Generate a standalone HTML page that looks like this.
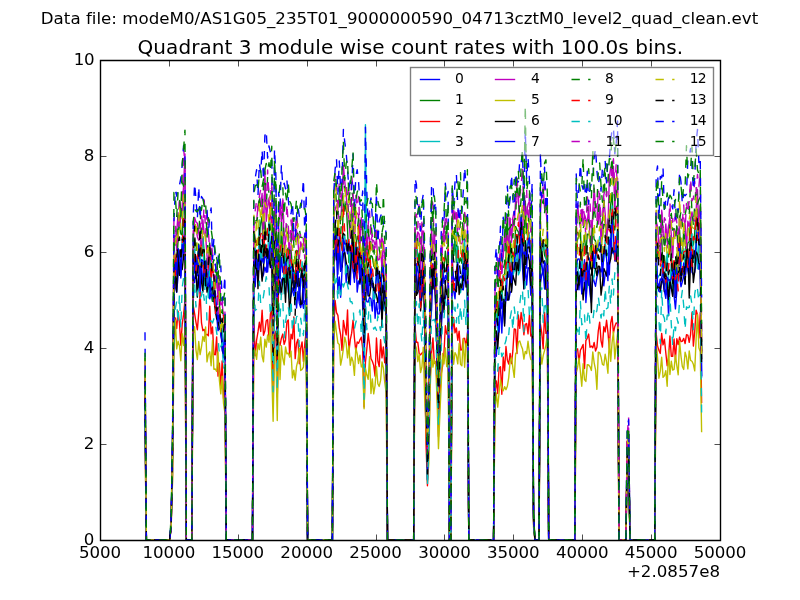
<!DOCTYPE html>
<html><head><meta charset="utf-8"><title>Quadrant 3 module wise count rates</title><style>html,body{margin:0;padding:0;background:#fff;width:800px;height:600px;overflow:hidden}svg{display:block}</style></head><body>
<svg width="800" height="600" viewBox="0 0 800 600">
<defs><clipPath id="ax"><rect x="100" y="60" width="620" height="480"/></clipPath></defs>
<rect x="0" y="0" width="800" height="600" fill="#ffffff"/>
<g clip-path="url(#ax)" fill="none" stroke-width="1.3889" stroke-linejoin="round">
<path d="M145 400.36 146.38 540 169.8 540 171.18 522.86 172.56 461.13 173.93 279.02 175.31 286.9 176.69 292.33 178.07 275.75 179.44 262.52 180.82 277.99 182.2 250.25 183.58 246.99 184.96 265.06 186.33 540 191.84 540 193.22 275.19 194.6 282.68 195.98 268.83 197.36 291.54 198.73 275.22 200.11 293.13 201.49 264.38 202.87 283.43 204.24 269.99 205.62 269.48 207 279.27 208.38 269.1 209.76 298.71 211.13 293.57 212.51 301.1 213.89 301.61 215.27 301.11 216.64 315.68 218.02 330.77 219.4 328.2 220.78 324.57 222.16 350.83 223.53 352.93 224.91 359.17 226.29 540 252.47 540 253.84 263.94 255.22 286.7 256.6 259.24 257.98 279.45 259.36 254.59 260.73 257 262.11 277.58 263.49 274.67 264.87 267.13 266.24 272.28 267.62 256.73 269 263.42 270.38 248.04 271.76 244.47 273.13 358.73 274.51 277.03 275.89 235.28 277.27 350.39 278.64 280.6 280.02 292.78 281.4 280.11 282.78 277.78 284.16 281.58 285.53 273.04 286.91 273.3 288.29 291.59 289.67 299.13 291.04 295.65 292.42 288.05 293.8 295.73 295.18 294.77 296.56 308.01 297.93 291.41 299.31 303.38 300.69 307.66 302.07 300.42 303.44 308.25 304.82 300.73 306.2 301.02 307.58 540 332.38 540 333.76 271.43 335.13 247.25 336.51 251.85 337.89 290.12 339.27 276.98 340.64 297.24 342.02 270.42 343.4 243.56 344.78 252.28 346.16 282.45 347.53 265.34 348.91 268.7 350.29 284.64 351.67 249.69 353.04 271 354.42 278.95 355.8 249.29 357.18 292.07 358.56 280.84 359.93 284.24 361.31 254.83 362.69 307.68 364.07 357.37 365.44 295.03 366.82 301.54 368.2 302.08 369.58 297.06 370.96 298.94 372.33 311 373.71 287.36 375.09 318.3 376.47 302.55 377.84 314.11 379.22 313.87 380.6 304.43 381.98 312.81 383.36 308.16 384.73 293.58 386.11 304.29 387.49 540 413.67 540 415.04 298.04 416.42 268.57 417.8 289.91 419.18 291.66 420.56 301.64 421.93 296.02 423.31 263.13 424.69 305.26 426.07 401.52 427.44 471.8 428.82 426 430.2 324.38 431.58 309.43 432.96 275.53 434.33 274.48 435.71 306.2 437.09 358.15 438.47 399.78 439.84 363.81 441.22 329.66 442.6 305.7 443.98 304.61 445.36 299.34 446.73 289.65 448.11 293.6 449.49 540 450.87 540 452.24 257.85 453.62 290.39 455 298.74 456.38 276.89 457.76 285.19 459.13 278.63 460.51 289.98 461.89 288.86 463.27 289.82 464.64 276.65 466.02 275.53 467.4 281.95 468.78 540 493.58 540 494.96 342.88 496.33 356.22 497.71 336.44 499.09 318.84 500.47 306.55 501.84 332.98 503.22 299.17 504.6 323.43 505.98 293.87 507.36 292.28 508.73 300.19 510.11 292.78 511.49 290.64 512.87 275.63 514.24 265.47 515.62 260.82 517 258.87 518.38 261.43 519.76 270.55 521.13 241.51 522.51 268.08 523.89 288.91 525.27 266.35 526.64 284.99 528.02 267.61 529.4 268.37 530.78 295.1 532.16 289.81 533.53 517.48 534.91 540 539.04 540 540.42 282.84 541.8 274.61 543.18 270.62 544.56 288.95 545.93 268 547.31 278.75 548.69 540 574.87 540 576.24 284.85 577.62 274.89 579 289.78 580.38 271.42 581.76 293.93 583.13 277.17 584.51 263.81 585.89 302.5 587.27 283.4 588.64 275.89 590.02 293.82 591.4 302.53 592.78 275.57 594.16 281.79 595.53 286.25 596.91 277.36 598.29 272.38 599.67 267.39 601.04 271.94 602.42 268.06 603.8 285.82 605.18 273.66 606.56 273.59 607.93 268.5 609.31 274.81 610.69 233.16 612.07 251.77 613.44 253.79 614.82 252.67 616.2 243.22 617.58 260.05 618.96 540 625.84 540 627.22 467.15 628.6 438.44 629.98 540 654.78 540 656.16 281.69 657.53 285.92 658.91 291.38 660.29 292.07 661.67 282.88 663.04 280.24 664.42 291.03 665.8 298.39 667.18 284.8 668.56 315.64 669.93 286.49 671.31 288.32 672.69 281.97 674.07 295.45 675.44 308.92 676.82 290.92 678.2 275.88 679.58 275.35 680.96 286.72 682.33 281.75 683.71 276.49 685.09 270.16 686.47 255.21 687.84 270.52 689.22 277.68 690.6 240.91 691.98 272.21 693.36 274.61 694.73 272.22 696.11 261.08 697.49 256.41 698.87 269.22 700.24 263.46 701.62 377.44" stroke="#0000ff"/>
<path d="M145 371.63 146.38 540 169.8 540 171.18 523.38 172.56 444.4 173.93 244.19 175.31 262.94 176.69 265.2 178.07 240.14 179.44 216.63 180.82 233.86 182.2 234.99 183.58 190.84 184.96 208.12 186.33 540 191.84 540 193.22 249.91 194.6 257.11 195.98 273.3 197.36 259.08 198.73 244.02 200.11 255.9 201.49 256.09 202.87 236.51 204.24 253.09 205.62 275.76 207 258.51 208.38 259.37 209.76 250.27 211.13 280.85 212.51 301.4 213.89 295.38 215.27 285.48 216.64 270.89 218.02 274.5 219.4 301.84 220.78 333.82 222.16 321.83 223.53 329.84 224.91 325.61 226.29 540 252.47 540 253.84 231.36 255.22 244.24 256.6 245.02 257.98 242.61 259.36 234.98 260.73 223.19 262.11 216.22 263.49 263.68 264.87 221.84 266.24 234.47 267.62 231.24 269 230.07 270.38 229.42 271.76 217.1 273.13 331.74 274.51 227.67 275.89 246.46 277.27 351.31 278.64 228.8 280.02 278.96 281.4 221.29 282.78 254.91 284.16 249.41 285.53 282.3 286.91 250.55 288.29 247.82 289.67 269.62 291.04 249.94 292.42 268.1 293.8 270.93 295.18 278.51 296.56 250.42 297.93 251.33 299.31 272.31 300.69 268.51 302.07 272.34 303.44 266.11 304.82 274.26 306.2 268.92 307.58 540 332.38 540 333.76 251.35 335.13 222.12 336.51 243.24 337.89 220.98 339.27 233.67 340.64 243.69 342.02 248.84 343.4 199.24 344.78 211.15 346.16 201.53 347.53 229.03 348.91 262.55 350.29 254.65 351.67 251.09 353.04 207.72 354.42 266.3 355.8 249.97 357.18 236.09 358.56 239.4 359.93 251.92 361.31 262.93 362.69 278.18 364.07 352.48 365.44 291.16 366.82 249.86 368.2 249.39 369.58 262.27 370.96 255.55 372.33 256.77 373.71 264.96 375.09 268.85 376.47 254.81 377.84 274.37 379.22 302.86 380.6 304.55 381.98 258.16 383.36 266.75 384.73 308.38 386.11 282.5 387.49 540 413.67 540 415.04 263.03 416.42 239.73 417.8 260.41 419.18 252.97 420.56 261.29 421.93 245.25 423.31 253.63 424.69 288.31 426.07 371.73 427.44 457.04 428.82 409.79 430.2 296.44 431.58 243.65 432.96 259.49 434.33 260.14 435.71 285.71 437.09 331.51 438.47 380.42 439.84 351.26 441.22 305.76 442.6 262.65 443.98 268.06 445.36 251.18 446.73 264.83 448.11 255.06 449.49 540 450.87 540 452.24 247.48 453.62 255.47 455 235.51 456.38 262.49 457.76 246.08 459.13 262.78 460.51 257.99 461.89 263.39 463.27 250.72 464.64 258.19 466.02 268.43 467.4 250.6 468.78 540 493.58 540 494.96 324.04 496.33 292.59 497.71 319.13 499.09 301.17 500.47 287.07 501.84 298.06 503.22 275.22 504.6 274.72 505.98 257.42 507.36 214.1 508.73 268.15 510.11 240.99 511.49 262.23 512.87 254.47 514.24 259.46 515.62 226.41 517 229.77 518.38 231.82 519.76 242.9 521.13 214.7 522.51 233.43 523.89 243.8 525.27 200.97 526.64 232.21 528.02 237.04 529.4 244.88 530.78 240.94 532.16 249.42 533.53 519.31 534.91 540 539.04 540 540.42 237.19 541.8 241.89 543.18 242.28 544.56 255.13 545.93 258.59 547.31 245.29 548.69 540 574.87 540 576.24 245.74 577.62 239.18 579 235.64 580.38 229.7 581.76 267.42 583.13 243.99 584.51 235.19 585.89 254.5 587.27 234.24 588.64 234.14 590.02 236.85 591.4 257.55 592.78 227.69 594.16 239.26 595.53 241.01 596.91 251.55 598.29 248.63 599.67 251.79 601.04 244.84 602.42 236.24 603.8 224.15 605.18 224.86 606.56 239.01 607.93 219.29 609.31 220.65 610.69 204.46 612.07 192.65 613.44 225.38 614.82 229.95 616.2 206.1 617.58 210.67 618.96 540 625.84 540 627.22 449.34 628.6 435.05 629.98 540 654.78 540 656.16 235.58 657.53 258.66 658.91 245.52 660.29 246.41 661.67 234.52 663.04 276.58 664.42 255.98 665.8 270.3 667.18 256.44 668.56 256.93 669.93 235.44 671.31 255.81 672.69 268.12 674.07 268.58 675.44 274.31 676.82 253.89 678.2 272.67 679.58 230.14 680.96 256.95 682.33 252.27 683.71 231.44 685.09 241.26 686.47 254.68 687.84 243.12 689.22 241.8 690.6 217.28 691.98 246.56 693.36 244.83 694.73 232.85 696.11 210.28 697.49 209.35 698.87 234.11 700.24 208.77 701.62 351.49" stroke="#008000"/>
<path d="M145 431.41 146.38 540 169.8 540 171.18 526.95 172.56 475.11 173.93 326.08 175.31 317.86 176.69 328.48 178.07 311.24 179.44 322.83 180.82 345.23 182.2 324.19 183.58 314.67 184.96 300.8 186.33 540 191.84 540 193.22 305.74 194.6 313.66 195.98 322.32 197.36 329.7 198.73 312.91 200.11 292.5 201.49 322.93 202.87 330.68 204.24 329.37 205.62 334.73 207 334.34 208.38 335.65 209.76 306.1 211.13 333.86 212.51 326.83 213.89 354.29 215.27 354.75 216.64 336.85 218.02 376.14 219.4 363.28 220.78 388.58 222.16 360.83 223.53 398.49 224.91 385.8 226.29 540 252.47 540 253.84 323.29 255.22 355.68 256.6 340.05 257.98 331.9 259.36 322.31 260.73 331.43 262.11 310.24 263.49 335.2 264.87 331.06 266.24 320.74 267.62 319.64 269 339.22 270.38 314.53 271.76 305.17 273.13 403.48 274.51 336.3 275.89 331.29 277.27 396.95 278.64 341.62 280.02 345.34 281.4 338.23 282.78 334.08 284.16 344.33 285.53 339.92 286.91 321.7 288.29 320 289.67 356.77 291.04 334.19 292.42 338.75 293.8 316.86 295.18 358.65 296.56 343.24 297.93 339.1 299.31 363.75 300.69 348.33 302.07 341.97 303.44 361.36 304.82 343.56 306.2 331.14 307.58 540 332.38 540 333.76 330.32 335.13 300.48 336.51 312.68 337.89 315.41 339.27 327.67 340.64 334.89 342.02 350.36 343.4 320.37 344.78 328.35 346.16 334.85 347.53 310.02 348.91 351.85 350.29 339.61 351.67 333.13 353.04 320.26 354.42 337.84 355.8 351.08 357.18 342.06 358.56 343.26 359.93 339.91 361.31 337.2 362.69 348.68 364.07 407.05 365.44 362.55 366.82 348.83 368.2 333.49 369.58 344.75 370.96 358.58 372.33 361.21 373.71 365.38 375.09 376.05 376.47 337.92 377.84 360.81 379.22 366.53 380.6 339.67 381.98 357.87 383.36 346.84 384.73 362.71 386.11 357.96 387.49 540 413.67 540 415.04 326.92 416.42 342.28 417.8 342.31 419.18 353.62 420.56 354.87 421.93 353.05 423.31 351.98 424.69 365.05 426.07 445.26 427.44 485.84 428.82 447.07 430.2 376.92 431.58 352.82 432.96 337.85 434.33 363.27 435.71 361.82 437.09 384.82 438.47 436.41 439.84 394.65 441.22 373.81 442.6 365.83 443.98 353.31 445.36 325.77 446.73 334.12 448.11 331.3 449.49 540 450.87 540 452.24 335.91 453.62 317.53 455 332.92 456.38 327.94 457.76 340.29 459.13 331.08 460.51 350.05 461.89 349.92 463.27 338.55 464.64 338.31 466.02 346.94 467.4 332.76 468.78 540 493.58 540 494.96 391.89 496.33 380.86 497.71 393.49 499.09 367.78 500.47 366.69 501.84 394.25 503.22 356.89 504.6 370.8 505.98 346.55 507.36 360.13 508.73 364.14 510.11 353.4 511.49 363.56 512.87 350.67 514.24 328.84 515.62 329.48 517 353.54 518.38 315.02 519.76 328.42 521.13 312.56 522.51 321.42 523.89 334.79 525.27 324.34 526.64 323.55 528.02 333.9 529.4 314.96 530.78 335.98 532.16 334.1 533.53 522.92 534.91 540 539.04 540 540.42 324.38 541.8 333.02 543.18 348.79 544.56 312.4 545.93 333.34 547.31 331.64 548.69 540 574.87 540 576.24 350.35 577.62 348.86 579 362.44 580.38 350.23 581.76 347.63 583.13 344.48 584.51 368.54 585.89 340.57 587.27 338.06 588.64 334.06 590.02 347.2 591.4 346.09 592.78 347.79 594.16 342.51 595.53 350.94 596.91 347.19 598.29 330.99 599.67 322.13 601.04 340.84 602.42 347.07 603.8 326.79 605.18 331.8 606.56 320.28 607.93 332.15 609.31 348.15 610.69 323.13 612.07 316.45 613.44 333.09 614.82 326.48 616.2 322.87 617.58 323.72 618.96 540 625.84 540 627.22 469.32 628.6 470.4 629.98 540 654.78 540 656.16 333.09 657.53 345.96 658.91 350.18 660.29 353.41 661.67 333.39 663.04 344.93 664.42 339.25 665.8 352.71 667.18 365.7 668.56 357.14 669.93 335.94 671.31 356.24 672.69 356.4 674.07 339 675.44 359.93 676.82 338.65 678.2 344.62 679.58 337.06 680.96 341.55 682.33 341.23 683.71 338.38 685.09 343.54 686.47 334.79 687.84 335.08 689.22 342.42 690.6 334.32 691.98 312.75 693.36 346.07 694.73 331.49 696.11 310.27 697.49 314.73 698.87 338.05 700.24 312.72 701.62 403.04" stroke="#ff0000"/>
<path d="M145 386.96 146.38 540 169.8 540 171.18 521.11 172.56 445.74 173.93 276 175.31 275.81 176.69 271.4 178.07 258.92 179.44 251.94 180.82 270.11 182.2 237.22 183.58 246.99 184.96 226.42 186.33 540 191.84 540 193.22 281.61 194.6 248.9 195.98 268.27 197.36 267.93 198.73 259.42 200.11 261.52 201.49 250.96 202.87 238.17 204.24 285.35 205.62 274.59 207 279.12 208.38 297.87 209.76 253.43 211.13 291.56 212.51 281.81 213.89 289.35 215.27 301 216.64 313.9 218.02 312.97 219.4 313.31 220.78 319.55 222.16 329.07 223.53 346.14 224.91 340.61 226.29 540 252.47 540 253.84 248.33 255.22 246.85 256.6 267.8 257.98 274.39 259.36 220.03 260.73 261.88 262.11 250.29 263.49 262.65 264.87 243.61 266.24 248.34 267.62 263.88 269 218.53 270.38 251.03 271.76 234.75 273.13 345.5 274.51 231.01 275.89 243.36 277.27 346.5 278.64 246.58 280.02 253.75 281.4 255.44 282.78 251.46 284.16 293.71 285.53 255.01 286.91 251.12 288.29 267.28 289.67 298.35 291.04 259.48 292.42 278.43 293.8 270.07 295.18 303.7 296.56 271.28 297.93 276.94 299.31 291.75 300.69 285.39 302.07 261.68 303.44 279.92 304.82 272.13 306.2 256.98 307.58 540 332.38 540 333.76 252.92 335.13 236.73 336.51 238.98 337.89 259.88 339.27 257.72 340.64 264.57 342.02 254.24 343.4 238.6 344.78 235.75 346.16 249.51 347.53 239.79 348.91 253.17 350.29 270.17 351.67 246.54 353.04 253.85 354.42 264.72 355.8 248.47 357.18 257.92 358.56 246.9 359.93 260 361.31 265.98 362.69 289.66 364.07 347.78 365.44 124.8 366.82 269.31 368.2 285 369.58 264.12 370.96 272.75 372.33 273.88 373.71 299.35 375.09 297.76 376.47 266.36 377.84 279.77 379.22 292.27 380.6 275 381.98 283.31 383.36 291.73 384.73 310.7 386.11 286.68 387.49 540 413.67 540 415.04 259.3 416.42 245.07 417.8 267.51 419.18 260.41 420.56 280.3 421.93 275.61 423.31 273.42 424.69 326.45 426.07 394.28 427.44 479.61 428.82 428.69 430.2 338.61 431.58 275.1 432.96 267.93 434.33 279.61 435.71 276.05 437.09 336.04 438.47 392.05 439.84 346.83 441.22 296.88 442.6 280.95 443.98 270.61 445.36 268 446.73 273.84 448.11 265.13 449.49 540 450.87 540 452.24 255.34 453.62 255.1 455 246.04 456.38 232.19 457.76 281.38 459.13 280.71 460.51 292.73 461.89 283.95 463.27 248.86 464.64 238.73 466.02 282.92 467.4 259.14 468.78 540 493.58 540 494.96 321.15 496.33 309.68 497.71 330.75 499.09 312.03 500.47 298.94 501.84 292.8 503.22 300.12 504.6 306.56 505.98 278.87 507.36 257.93 508.73 276.12 510.11 272.2 511.49 258.65 512.87 276.4 514.24 270.26 515.62 271 517 234.73 518.38 274.92 519.76 271.39 521.13 238.9 522.51 238.2 523.89 243.42 525.27 242.23 526.64 251.87 528.02 228.78 529.4 235.59 530.78 252.04 532.16 252.77 533.53 516.52 534.91 540 539.04 540 540.42 271.76 541.8 254.35 543.18 245.25 544.56 244.03 545.93 256.19 547.31 282.9 548.69 540 574.87 540 576.24 267.51 577.62 262.88 579 282.97 580.38 273.39 581.76 261.15 583.13 280.39 584.51 264.78 585.89 278.37 587.27 287.75 588.64 267.6 590.02 257.62 591.4 259.51 592.78 279.95 594.16 276.29 595.53 265.05 596.91 249.28 598.29 247.07 599.67 236.66 601.04 239.66 602.42 265.77 603.8 260.45 605.18 240.28 606.56 257.57 607.93 252.81 609.31 237.47 610.69 237.04 612.07 205.87 613.44 246.34 614.82 259.83 616.2 241.85 617.58 228.11 618.96 540 625.84 540 627.22 457.52 628.6 436.07 629.98 540 654.78 540 656.16 253.65 657.53 278.28 658.91 275.71 660.29 274.52 661.67 264.81 663.04 271.25 664.42 275.06 665.8 271.73 667.18 251.99 668.56 287.67 669.93 283.2 671.31 264.41 672.69 292.62 674.07 274.32 675.44 276.44 676.82 284.59 678.2 268.16 679.58 246.72 680.96 266.21 682.33 254.21 683.71 248.59 685.09 270.23 686.47 251.87 687.84 255.51 689.22 257.78 690.6 247.94 691.98 233.8 693.36 252.41 694.73 265.11 696.11 230.63 697.49 268.83 698.87 241.97 700.24 238.58 701.62 353.24" stroke="#00bfbf"/>
<path d="M145 362.39 146.38 540 169.8 540 171.18 525.71 172.56 441.01 173.93 235.69 175.31 236.73 176.69 233.11 178.07 212.81 179.44 226.24 180.82 216.04 182.2 206.57 183.58 186.1 184.96 154.05 186.33 540 191.84 540 193.22 248.04 194.6 217.52 195.98 221.9 197.36 223.2 198.73 232.76 200.11 239.51 201.49 248.66 202.87 219.71 204.24 234.33 205.62 235.73 207 255.39 208.38 270.26 209.76 243.76 211.13 256.84 212.51 264.75 213.89 281.02 215.27 275.63 216.64 279.28 218.02 296.83 219.4 282.9 220.78 304.98 222.16 302.68 223.53 317.02 224.91 319.11 226.29 540 252.47 540 253.84 224.93 255.22 222.91 256.6 222.02 257.98 205.12 259.36 199.55 260.73 206.74 262.11 193.43 263.49 242.81 264.87 171.24 266.24 221.24 267.62 207.05 269 198.16 270.38 217.65 271.76 220.75 273.13 306.33 274.51 211.27 275.89 200.84 277.27 327.73 278.64 225.01 280.02 205.74 281.4 221.34 282.78 200.34 284.16 251.85 285.53 241.3 286.91 230.92 288.29 232.73 289.67 263.71 291.04 248.36 292.42 218.54 293.8 240.88 295.18 236.58 296.56 229.84 297.93 241.79 299.31 259.04 300.69 241.9 302.07 247.07 303.44 252.04 304.82 248.45 306.2 229.92 307.58 540 332.38 540 333.76 213.6 335.13 209.44 336.51 204.94 337.89 209.51 339.27 220.91 340.64 220.72 342.02 201 343.4 165.32 344.78 181.54 346.16 195.15 347.53 212.32 348.91 218.88 350.29 238.28 351.67 205.64 353.04 203.68 354.42 240.19 355.8 216.04 357.18 213.06 358.56 214.79 359.93 248.6 361.31 217.74 362.69 230.9 364.07 319.15 365.44 243.18 366.82 252.85 368.2 233.41 369.58 239.04 370.96 249.64 372.33 239.89 373.71 240.77 375.09 245.38 376.47 239.43 377.84 260.02 379.22 259.49 380.6 252.12 381.98 266.44 383.36 241.42 384.73 257.2 386.11 277.33 387.49 540 413.67 540 415.04 228.09 416.42 242.96 417.8 232.02 419.18 234.24 420.56 273.44 421.93 230.46 423.31 234.81 424.69 292.75 426.07 350.19 427.44 456.23 428.82 401.75 430.2 295.36 431.58 228.14 432.96 253.58 434.33 231.13 435.71 260.81 437.09 318.85 438.47 382.75 439.84 340.14 441.22 282.27 442.6 242.15 443.98 225.7 445.36 236.92 446.73 243.43 448.11 233.01 449.49 540 450.87 540 452.24 216.38 453.62 210.16 455 219.17 456.38 212.68 457.76 236.29 459.13 235.52 460.51 243.29 461.89 243.76 463.27 238.23 464.64 212.36 466.02 219.54 467.4 220.83 468.78 540 493.58 540 494.96 292.21 496.33 282.97 497.71 283.2 499.09 260.84 500.47 267.02 501.84 265.76 503.22 256.71 504.6 233.7 505.98 245.56 507.36 235.32 508.73 250.24 510.11 218.14 511.49 242.3 512.87 219.59 514.24 227.03 515.62 199.45 517 188.14 518.38 194.5 519.76 242.11 521.13 219.93 522.51 236.97 523.89 193.54 525.27 215.06 526.64 211.46 528.02 204.54 529.4 200.96 530.78 232.04 532.16 226.85 533.53 515.11 534.91 540 539.04 540 540.42 212.72 541.8 192.98 543.18 187.58 544.56 208.44 545.93 210.35 547.31 222.67 548.69 540 574.87 540 576.24 230.31 577.62 203.78 579 219.13 580.38 227.58 581.76 209.7 583.13 225.35 584.51 214.81 585.89 219.07 587.27 223.69 588.64 206.24 590.02 240.77 591.4 245.7 592.78 211.62 594.16 188.29 595.53 208.17 596.91 203.82 598.29 224.08 599.67 205.06 601.04 242.54 602.42 221.43 603.8 198.76 605.18 213.79 606.56 235.49 607.93 229.42 609.31 177.48 610.69 167.24 612.07 172.33 613.44 166.32 614.82 209.63 616.2 178.57 617.58 178.23 618.96 540 625.84 540 627.22 442.33 628.6 427.96 629.98 540 654.78 540 656.16 220.76 657.53 226.62 658.91 247.55 660.29 261.41 661.67 211.85 663.04 232.37 664.42 245.44 665.8 223.86 667.18 242.21 668.56 226.58 669.93 216.89 671.31 234.7 672.69 257.67 674.07 228.89 675.44 235.99 676.82 226.45 678.2 259.1 679.58 216.05 680.96 227.05 682.33 218.14 683.71 218.03 685.09 224.84 686.47 248.41 687.84 221.24 689.22 226.21 690.6 219.99 691.98 211.86 693.36 220.36 694.73 221.02 696.11 210.45 697.49 189.44 698.87 233.65 700.24 205.02 701.62 351" stroke="#bf00bf"/>
<path d="M145 435.3 146.38 540 169.8 540 171.18 523.17 172.56 480.89 173.93 350.6 175.31 320.12 176.69 348.87 178.07 341.18 179.44 345.7 180.82 360.78 182.2 333.75 183.58 345.49 184.96 328.44 186.33 540 191.84 540 193.22 333.84 194.6 326.75 195.98 350.09 197.36 359.53 198.73 341.54 200.11 354.65 201.49 346.97 202.87 336.35 204.24 341.44 205.62 326.93 207 361.91 208.38 354.39 209.76 351.76 211.13 365.77 212.51 340.36 213.89 369.27 215.27 369 216.64 371.51 218.02 351.96 219.4 380.45 220.78 393.87 222.16 376.13 223.53 403.45 224.91 412.82 226.29 540 252.47 540 253.84 348.12 255.22 351.32 256.6 359.37 257.98 343.57 259.36 349.56 260.73 337.07 262.11 355.99 263.49 361.78 264.87 339.16 266.24 347.07 267.62 335.05 269 342.22 270.38 323.27 271.76 373.69 273.13 421.24 274.51 349.01 275.89 353.24 277.27 420.54 278.64 330.96 280.02 379.54 281.4 345.77 282.78 358.26 284.16 364.86 285.53 347.01 286.91 353.82 288.29 353.11 289.67 357 291.04 351.3 292.42 377.91 293.8 370.14 295.18 380.18 296.56 366.08 297.93 360.64 299.31 348.37 300.69 370.51 302.07 369.51 303.44 367.09 304.82 348.8 306.2 371.52 307.58 540 332.38 540 333.76 341.61 335.13 321.16 336.51 332.83 337.89 343.09 339.27 344.41 340.64 365.1 342.02 358.06 343.4 348.77 344.78 337.28 346.16 342.97 347.53 357.88 348.91 346.04 350.29 365.25 351.67 357.16 353.04 361.46 354.42 375.41 355.8 348.03 357.18 353.59 358.56 363.51 359.93 355.15 361.31 366.95 362.69 364.23 364.07 408.8 365.44 368.3 366.82 375.08 368.2 379.33 369.58 356.71 370.96 393.56 372.33 378.93 373.71 393.92 375.09 385.29 376.47 366.57 377.84 383.79 379.22 386.44 380.6 380.39 381.98 361.89 383.36 367.8 384.73 382.18 386.11 392.3 387.49 540 413.67 540 415.04 344.38 416.42 348.13 417.8 361.6 419.18 354.14 420.56 372.5 421.93 366.73 423.31 347.17 424.69 398.94 426.07 424.47 427.44 481.21 428.82 462.98 430.2 388.28 431.58 353.93 432.96 367.17 434.33 359.32 435.71 365.02 437.09 401.11 438.47 448.62 439.84 414.87 441.22 384.51 442.6 353.36 443.98 363.94 445.36 347.83 446.73 366.61 448.11 357.92 449.49 540 450.87 540 452.24 341.28 453.62 364.25 455 352.66 456.38 355.26 457.76 363.85 459.13 343.45 460.51 364.3 461.89 365.78 463.27 338.94 464.64 367.29 466.02 343.73 467.4 345.76 468.78 540 493.58 540 494.96 408.9 496.33 393.01 497.71 407.07 499.09 392.85 500.47 379.92 501.84 387.97 503.22 390.86 504.6 386.61 505.98 389.66 507.36 386.26 508.73 377.62 510.11 361.39 511.49 357.45 512.87 367.74 514.24 377.36 515.62 353.57 517 351.79 518.38 342.06 519.76 340.96 521.13 345.41 522.51 348.91 523.89 359.12 525.27 351.4 526.64 353.7 528.02 341.26 529.4 352.52 530.78 359.48 532.16 359.77 533.53 527.07 534.91 540 539.04 540 540.42 348.41 541.8 364.04 543.18 355.56 544.56 350.5 545.93 345.06 547.31 335.1 548.69 540 574.87 540 576.24 372.81 577.62 367.22 579 358.1 580.38 371.53 581.76 386.19 583.13 363.7 584.51 379.49 585.89 381.42 587.27 364.61 588.64 365 590.02 366.79 591.4 370.41 592.78 352.02 594.16 362.78 595.53 369.57 596.91 389.34 598.29 352.3 599.67 352.62 601.04 356.95 602.42 364.43 603.8 365.22 605.18 354.25 606.56 361.94 607.93 373.28 609.31 338.43 610.69 361.33 612.07 342.47 613.44 331.94 614.82 358.88 616.2 345.43 617.58 333.77 618.96 540 625.84 540 627.22 480.77 628.6 472.2 629.98 540 654.78 540 656.16 340.84 657.53 357.75 658.91 378.21 660.29 371.16 661.67 357.14 663.04 377.36 664.42 375.83 665.8 370.66 667.18 386.27 668.56 350.09 669.93 374.48 671.31 361.23 672.69 370.02 674.07 369.42 675.44 355.13 676.82 365.62 678.2 374.8 679.58 341.04 680.96 355.99 682.33 366.48 683.71 369.47 685.09 352.19 686.47 356.98 687.84 368.92 689.22 350.88 690.6 360.45 691.98 361.27 693.36 364.3 694.73 370.9 696.11 339 697.49 314.36 698.87 347.76 700.24 351.68 701.62 432.29" stroke="#bfbf00"/>
<path d="M145 393.82 146.38 540 169.8 540 171.18 524.33 172.56 450.37 173.93 295.38 175.31 272.37 176.69 291.78 178.07 251.71 179.44 275.34 180.82 260.05 182.2 269.57 183.58 256.69 184.96 234.44 186.33 540 191.84 540 193.22 257.24 194.6 271.41 195.98 270.94 197.36 297.17 198.73 276.56 200.11 263.29 201.49 281.97 202.87 291.99 204.24 267.88 205.62 271.53 207 292.17 208.38 284.05 209.76 285.73 211.13 290.1 212.51 287.15 213.89 299.24 215.27 310.12 216.64 318.54 218.02 320.82 219.4 329.16 220.78 327.07 222.16 346.71 223.53 356.43 224.91 343.54 226.29 540 252.47 540 253.84 250.26 255.22 268.64 256.6 250.21 257.98 288.62 259.36 259.26 260.73 262.9 262.11 281.14 263.49 267.23 264.87 244.65 266.24 257.22 267.62 249 269 259.73 270.38 267.62 271.76 246.44 273.13 361.91 274.51 265.53 275.89 274.76 277.27 360.59 278.64 279.65 280.02 282.78 281.4 294.59 282.78 279.11 284.16 278.31 285.53 302.27 286.91 269.13 288.29 284.66 289.67 315.22 291.04 292.27 292.42 273.72 293.8 290.22 295.18 292.26 296.56 270.39 297.93 286.58 299.31 286.54 300.69 304.51 302.07 303.47 303.44 276.68 304.82 274.16 306.2 283.29 307.58 540 332.38 540 333.76 265.51 335.13 235.57 336.51 259.82 337.89 239.57 339.27 249.04 340.64 270.45 342.02 266.26 343.4 254.07 344.78 252.66 346.16 261.95 347.53 269.75 348.91 283.87 350.29 271.44 351.67 251.57 353.04 234.49 354.42 277.54 355.8 270.72 357.18 264.6 358.56 251.75 359.93 283.02 361.31 272.9 362.69 277.59 364.07 356.81 365.44 298.18 366.82 283.19 368.2 295.83 369.58 296.02 370.96 285.78 372.33 280.65 373.71 288.27 375.09 291.68 376.47 295.07 377.84 302.54 379.22 291.8 380.6 277.51 381.98 327.3 383.36 286.81 384.73 303.47 386.11 310.08 387.49 540 413.67 540 415.04 262.94 416.42 295.35 417.8 292.28 419.18 268.97 420.56 310.9 421.93 295.68 423.31 256.08 424.69 328.11 426.07 388.15 427.44 467.43 428.82 427.76 430.2 323.34 431.58 267.31 432.96 288.14 434.33 268.36 435.71 306.4 437.09 357.96 438.47 407.92 439.84 361.68 441.22 322.59 442.6 285.22 443.98 312.33 445.36 283.98 446.73 294.53 448.11 290.75 449.49 540 450.87 540 452.24 281.43 453.62 287.94 455 289.91 456.38 291.75 457.76 268.99 459.13 294.49 460.51 283.94 461.89 288.1 463.27 275.1 464.64 267.64 466.02 287.04 467.4 281.22 468.78 540 493.58 540 494.96 346 496.33 330.83 497.71 348.62 499.09 328.22 500.47 300.86 501.84 306.55 503.22 302.78 504.6 326.01 505.98 285.6 507.36 300.12 508.73 299.34 510.11 274.08 511.49 292.12 512.87 275.42 514.24 279.81 515.62 285.11 517 262.13 518.38 270.52 519.76 251.59 521.13 236.18 522.51 240.43 523.89 288.78 525.27 240.78 526.64 257.67 528.02 254.47 529.4 260.88 530.78 285.38 532.16 277.63 533.53 516.62 534.91 540 539.04 540 540.42 268.77 541.8 251.38 543.18 263.2 544.56 260.96 545.93 289.32 547.31 290.49 548.69 540 574.87 540 576.24 281.32 577.62 289.66 579 277.39 580.38 274.95 581.76 276.66 583.13 299.92 584.51 282.36 585.89 293.49 587.27 278.33 588.64 271.17 590.02 275.24 591.4 312.52 592.78 253.7 594.16 268.09 595.53 268.42 596.91 275.67 598.29 266.23 599.67 266.48 601.04 295.1 602.42 284.22 603.8 268.37 605.18 271.71 606.56 276.07 607.93 262.78 609.31 263.93 610.69 258.83 612.07 247.66 613.44 252.15 614.82 251.13 616.2 261.51 617.58 242.31 618.96 540 625.84 540 627.22 464.65 628.6 454.42 629.98 540 654.78 540 656.16 284.01 657.53 288.14 658.91 285.3 660.29 290.56 661.67 277.89 663.04 280.62 664.42 291.54 665.8 273.6 667.18 281.85 668.56 299.26 669.93 279.81 671.31 288.54 672.69 296.38 674.07 265.62 675.44 297.29 676.82 274.66 678.2 273.6 679.58 237.22 680.96 281.19 682.33 272.08 683.71 269.18 685.09 284.29 686.47 252.59 687.84 248.92 689.22 297.99 690.6 261.15 691.98 254.99 693.36 282.45 694.73 271.33 696.11 251.97 697.49 254.27 698.87 263.03 700.24 264.88 701.62 359.19" stroke="#000000"/>
<path d="M145 407.19 146.38 540 169.8 540 171.18 524.98 172.56 441.31 173.93 293.34 175.31 257.91 176.69 274.21 178.07 248.58 179.44 252.06 180.82 275.86 182.2 244.1 183.58 253.49 184.96 213.86 186.33 540 191.84 540 193.22 246.72 194.6 273.08 195.98 256.75 197.36 275.83 198.73 245.2 200.11 280.94 201.49 259.44 202.87 260.54 204.24 276.18 205.62 260.84 207 284.57 208.38 286.48 209.76 277.29 211.13 296.23 212.51 294.92 213.89 296.6 215.27 291.25 216.64 308.41 218.02 321.49 219.4 310.37 220.78 335.03 222.16 340.77 223.53 357.79 224.91 324.44 226.29 540 252.47 540 253.84 267.42 255.22 250.73 256.6 261.99 257.98 274.67 259.36 256.15 260.73 265.06 262.11 258.51 263.49 263.03 264.87 256.65 266.24 257.67 267.62 271.94 269 253.32 270.38 241.84 271.76 251.68 273.13 335.56 274.51 262.26 275.89 257.17 277.27 350.14 278.64 263.05 280.02 278.34 281.4 257.5 282.78 272.31 284.16 268.71 285.53 261.91 286.91 267.5 288.29 270.19 289.67 269.55 291.04 266.99 292.42 266.38 293.8 284.4 295.18 295 296.56 283.26 297.93 263.23 299.31 300.33 300.69 278.62 302.07 268.61 303.44 302.56 304.82 277.18 306.2 296.91 307.58 540 332.38 540 333.76 266.66 335.13 254.87 336.51 235.15 337.89 274.21 339.27 236.32 340.64 271.37 342.02 264.27 343.4 238.7 344.78 244.04 346.16 243.33 347.53 253.69 348.91 241.56 350.29 253.24 351.67 243.49 353.04 262.91 354.42 282.2 355.8 247.47 357.18 256.49 358.56 262.63 359.93 277.88 361.31 264.45 362.69 296.05 364.07 361.22 365.44 300.28 366.82 270.58 368.2 294.9 369.58 280.48 370.96 266.71 372.33 287.03 373.71 287.64 375.09 292.99 376.47 276.52 377.84 269.58 379.22 309.17 380.6 292.52 381.98 272.92 383.36 265.94 384.73 300.87 386.11 287.34 387.49 540 413.67 540 415.04 271.93 416.42 263.64 417.8 271.18 419.18 275.51 420.56 301.12 421.93 272.98 423.31 258.07 424.69 309.06 426.07 384.52 427.44 480.01 428.82 430.6 430.2 328.08 431.58 266.51 432.96 263.65 434.33 282.93 435.71 288.06 437.09 357.95 438.47 397.54 439.84 351.12 441.22 304.97 442.6 268.71 443.98 283.48 445.36 275.44 446.73 279.42 448.11 251.51 449.49 540 450.87 540 452.24 267.86 453.62 278.15 455 280.82 456.38 270.38 457.76 262.43 459.13 280.92 460.51 276.1 461.89 278.01 463.27 263.77 464.64 279.87 466.02 259.97 467.4 263.75 468.78 540 493.58 540 494.96 332.75 496.33 318.97 497.71 322.31 499.09 332.02 500.47 296.64 501.84 308.59 503.22 301.62 504.6 301.17 505.98 300.21 507.36 273.37 508.73 277.19 510.11 266.2 511.49 282.51 512.87 262.99 514.24 262.23 515.62 253.33 517 253.77 518.38 245.95 519.76 258.35 521.13 217.09 522.51 251 523.89 254.19 525.27 251.8 526.64 268.17 528.02 243.78 529.4 237.92 530.78 260.59 532.16 259.98 533.53 521.01 534.91 540 539.04 540 540.42 266.91 541.8 263.8 543.18 274.98 544.56 261.86 545.93 265.75 547.31 274.09 548.69 540 574.87 540 576.24 265.91 577.62 259.22 579 258.83 580.38 263.33 581.76 292.56 583.13 273.92 584.51 259.66 585.89 296.31 587.27 262.4 588.64 285.22 590.02 258.33 591.4 257.25 592.78 244.63 594.16 267.49 595.53 253.5 596.91 249.42 598.29 245.86 599.67 242.7 601.04 250.56 602.42 276.61 603.8 254.55 605.18 249.91 606.56 258.48 607.93 280.63 609.31 240.06 610.69 245.81 612.07 219.64 613.44 234.84 614.82 261.07 616.2 247.44 617.58 232.19 618.96 540 625.84 540 627.22 457.74 628.6 434.3 629.98 540 654.78 540 656.16 246.51 657.53 282.95 658.91 286.32 660.29 278.93 661.67 280.57 663.04 262.95 664.42 288.9 665.8 293.96 667.18 277.23 668.56 280.03 669.93 281.17 671.31 278.39 672.69 271.99 674.07 265.78 675.44 296.59 676.82 267.63 678.2 269.08 679.58 244.07 680.96 276.43 682.33 273.37 683.71 263.03 685.09 277.33 686.47 264.98 687.84 267.43 689.22 264.38 690.6 251.87 691.98 257.1 693.36 257.66 694.73 254.93 696.11 246.94 697.49 222.63 698.87 237.76 700.24 245.51 701.62 376.11" stroke="#0000ff"/>
<path d="M145 357.6 146.38 540 169.8 540 171.18 514.95 172.56 437.77 173.93 269.38 175.31 226.48 176.69 246.94 178.07 216.1 179.44 214.89 180.82 221.54 182.2 181.45 183.58 186.03 184.96 188.24 186.33 540 191.84 540 193.22 249.08 194.6 239.52 195.98 252.8 197.36 228.23 198.73 233.85 200.11 211.68 201.49 233.23 202.87 231.12 204.24 226.78 205.62 228.21 207 227.81 208.38 264.49 209.76 241.33 211.13 246.01 212.51 265.56 213.89 259.53 215.27 272.22 216.64 257.56 218.02 266.52 219.4 309.62 220.78 318.15 222.16 309.53 223.53 318.78 224.91 315.09 226.29 540 252.47 540 253.84 214.22 255.22 218.3 256.6 222.58 257.98 214.62 259.36 195.17 260.73 210.79 262.11 207.02 263.49 187.14 264.87 170.09 266.24 209.15 267.62 176.58 269 194.79 270.38 192.62 271.76 187.38 273.13 329.25 274.51 170.18 275.89 181.18 277.27 328.9 278.64 217.54 280.02 219.8 281.4 221.7 282.78 213.58 284.16 237.1 285.53 237.92 286.91 224.01 288.29 239.2 289.67 253.51 291.04 239.91 292.42 224.02 293.8 244.15 295.18 265.86 296.56 212.43 297.93 237.91 299.31 228.8 300.69 237.27 302.07 237.49 303.44 252.25 304.82 236.73 306.2 247.91 307.58 540 332.38 540 333.76 207.96 335.13 183.31 336.51 204.6 337.89 214.66 339.27 192.6 340.64 233.51 342.02 214.99 343.4 176.88 344.78 190.96 346.16 183.28 347.53 198.05 348.91 219.41 350.29 229.4 351.67 190.67 353.04 197.31 354.42 242.37 355.8 230.63 357.18 229.86 358.56 218.62 359.93 214.89 361.31 240.8 362.69 223.45 364.07 317.35 365.44 279.54 366.82 253.18 368.2 222.59 369.58 255.55 370.96 221.79 372.33 237.33 373.71 266.07 375.09 226.49 376.47 239.4 377.84 230.29 379.22 249.57 380.6 255.87 381.98 232.53 383.36 225.61 384.73 239.5 386.11 273.17 387.49 540 413.67 540 415.04 212.7 416.42 219.81 417.8 242.59 419.18 266.22 420.56 241.26 421.93 224.84 423.31 223.62 424.69 258.44 426.07 349.58 427.44 466.23 428.82 405.03 430.2 296.49 431.58 204.23 432.96 214.68 434.33 235.12 435.71 241.92 437.09 307.09 438.47 386.59 439.84 329.94 441.22 265.94 442.6 241.88 443.98 241.23 445.36 222.26 446.73 248.61 448.11 244.77 449.49 540 450.87 540 452.24 194.47 453.62 258.14 455 213.32 456.38 246.02 457.76 232.34 459.13 237.58 460.51 221.98 461.89 228.86 463.27 261.21 464.64 224.04 466.02 219.15 467.4 212.54 468.78 540 493.58 540 494.96 300.33 496.33 258.01 497.71 280.59 499.09 288.39 500.47 251.16 501.84 255.42 503.22 269.26 504.6 262.91 505.98 220.66 507.36 235.16 508.73 228.76 510.11 227.43 511.49 224.54 512.87 237.81 514.24 218.94 515.62 219.05 517 182.46 518.38 197.99 519.76 214.22 521.13 199.17 522.51 191.33 523.89 243.66 525.27 218.16 526.64 215.77 528.02 213.1 529.4 227.44 530.78 219.33 532.16 231.4 533.53 510.96 534.91 540 539.04 540 540.42 212.47 541.8 206.73 543.18 199.66 544.56 212.67 545.93 199.2 547.31 217.91 548.69 540 574.87 540 576.24 209.7 577.62 232.34 579 236.23 580.38 202.13 581.76 228.44 583.13 228.09 584.51 224.37 585.89 216.37 587.27 207.24 588.64 221.31 590.02 225.01 591.4 252.6 592.78 219.71 594.16 206.21 595.53 219.5 596.91 227.27 598.29 213.3 599.67 193.59 601.04 224.98 602.42 220.44 603.8 205.52 605.18 173.06 606.56 195.48 607.93 203.31 609.31 202.36 610.69 172.33 612.07 156.98 613.44 187.33 614.82 200.45 616.2 190.29 617.58 201.83 618.96 540 625.84 540 627.22 442.17 628.6 438.88 629.98 540 654.78 540 656.16 215.13 657.53 192.02 658.91 220.91 660.29 238.06 661.67 218.15 663.04 228.02 664.42 249.35 665.8 237.78 667.18 233.82 668.56 243.79 669.93 218.8 671.31 213.39 672.69 230.07 674.07 228.76 675.44 238.29 676.82 227.3 678.2 244.4 679.58 219.69 680.96 211.46 682.33 224.23 683.71 233.68 685.09 215.35 686.47 207.44 687.84 200.15 689.22 216.07 690.6 181.99 691.98 211.77 693.36 225.02 694.73 205.2 696.11 185.38 697.49 204.15 698.87 199.73 700.24 196.95 701.62 342.25" stroke="#008000" stroke-dasharray="8.3333 8.3333"/>
<path d="M145 379.64 146.38 540 169.8 540 171.18 521.94 172.56 454.96 173.93 256.47 175.31 275.51 176.69 239.78 178.07 243.75 179.44 245.37 180.82 254.8 182.2 246.46 183.58 214.35 184.96 209.73 186.33 540 191.84 540 193.22 247.88 194.6 261.33 195.98 271.54 197.36 254.97 198.73 261.2 200.11 253.26 201.49 242.29 202.87 262.2 204.24 274.54 205.62 268.46 207 277.08 208.38 266.22 209.76 251.83 211.13 281.24 212.51 262.68 213.89 283 215.27 314.18 216.64 297.58 218.02 295.7 219.4 296.91 220.78 329.38 222.16 322.67 223.53 315.27 224.91 331.56 226.29 540 252.47 540 253.84 237.52 255.22 248.76 256.6 240.48 257.98 253.63 259.36 239.68 260.73 235.1 262.11 230.33 263.49 256.76 264.87 229.79 266.24 250.73 267.62 227.22 269 226.71 270.38 202.96 271.76 225.64 273.13 327.9 274.51 219.33 275.89 233.11 277.27 368.68 278.64 256.2 280.02 250.23 281.4 242.94 282.78 251.35 284.16 277.53 285.53 277.96 286.91 245.67 288.29 248.64 289.67 280.76 291.04 259.54 292.42 268.29 293.8 270.25 295.18 281.59 296.56 251.06 297.93 271.55 299.31 273.31 300.69 259.27 302.07 273.27 303.44 285.06 304.82 263.04 306.2 274.37 307.58 540 332.38 540 333.76 255.92 335.13 242.14 336.51 235.31 337.89 254.14 339.27 226.8 340.64 240.03 342.02 250.53 343.4 203.59 344.78 234.98 346.16 239.09 347.53 251.43 348.91 239.44 350.29 251.07 351.67 240.52 353.04 267.08 354.42 270.38 355.8 242.22 357.18 280.38 358.56 224.34 359.93 258.55 361.31 249.07 362.69 262.87 364.07 333.47 365.44 255.83 366.82 239.87 368.2 276.2 369.58 238.38 370.96 279.23 372.33 266.87 373.71 280.54 375.09 280.7 376.47 290.94 377.84 282.4 379.22 295.04 380.6 279.35 381.98 273.43 383.36 276.63 384.73 285.13 386.11 272.83 387.49 540 413.67 540 415.04 266.12 416.42 241.17 417.8 267.83 419.18 268.57 420.56 307.77 421.93 290.76 423.31 260.45 424.69 305.55 426.07 382 427.44 466.24 428.82 408.7 430.2 319.21 431.58 259.32 432.96 267.1 434.33 278.26 435.71 272.96 437.09 342.22 438.47 398.71 439.84 345.77 441.22 290.94 442.6 257.27 443.98 258.24 445.36 270.86 446.73 271.55 448.11 249.47 449.49 540 450.87 540 452.24 259.89 453.62 293.74 455 275.23 456.38 273.15 457.76 261.08 459.13 237.45 460.51 248.55 461.89 257.16 463.27 250.27 464.64 266.48 466.02 261.47 467.4 246.74 468.78 540 493.58 540 494.96 315.8 496.33 314.17 497.71 299.81 499.09 301.14 500.47 262.21 501.84 292.36 503.22 274.05 504.6 280.59 505.98 265.41 507.36 259.91 508.73 240.93 510.11 268.13 511.49 275.11 512.87 251.85 514.24 256.38 515.62 232.53 517 238.23 518.38 222.35 519.76 243.23 521.13 238.58 522.51 234.34 523.89 243.28 525.27 242.2 526.64 243.64 528.02 234.81 529.4 232.03 530.78 239.3 532.16 248.32 533.53 513.93 534.91 540 539.04 540 540.42 235.32 541.8 244.5 543.18 240.69 544.56 240.15 545.93 252.72 547.31 259.55 548.69 540 574.87 540 576.24 217.17 577.62 255.09 579 258.09 580.38 245.74 581.76 265.51 583.13 279.23 584.51 242.67 585.89 279.77 587.27 254.55 588.64 253.2 590.02 250.43 591.4 265.68 592.78 244.44 594.16 257.02 595.53 244.34 596.91 253.59 598.29 258.55 599.67 259.81 601.04 258.35 602.42 248.49 603.8 256.5 605.18 238.43 606.56 242.73 607.93 228.64 609.31 230.03 610.69 232.8 612.07 206.39 613.44 227.68 614.82 259.74 616.2 207.71 617.58 215.2 618.96 540 625.84 540 627.22 441.08 628.6 448.97 629.98 540 654.78 540 656.16 236.63 657.53 252.63 658.91 253.54 660.29 266.93 661.67 258.71 663.04 273.26 664.42 261.5 665.8 282.27 667.18 272.81 668.56 268.18 669.93 248.7 671.31 262.94 672.69 280.63 674.07 256.13 675.44 279.54 676.82 274.82 678.2 290.92 679.58 242.54 680.96 257.07 682.33 272.28 683.71 251.99 685.09 251.21 686.47 257.29 687.84 267.37 689.22 249.49 690.6 225.08 691.98 266.55 693.36 236.58 694.73 239.26 696.11 214.92 697.49 240.33 698.87 223.52 700.24 233.48 701.62 352.84" stroke="#ff0000" stroke-dasharray="8.3333 8.3333"/>
<path d="M145 410.54 146.38 540 169.8 540 171.18 521.95 172.56 467.44 173.93 319.94 175.31 308.9 176.69 301.18 178.07 323.12 179.44 294.86 180.82 327.81 182.2 287.58 183.58 278.01 184.96 270.49 186.33 540 191.84 540 193.22 303.78 194.6 282.79 195.98 307.03 197.36 291.98 198.73 288.91 200.11 298.32 201.49 295.78 202.87 288.36 204.24 300.26 205.62 276.17 207 322.66 208.38 324.75 209.76 321.35 211.13 320.9 212.51 322.97 213.89 318.72 215.27 321.66 216.64 332.77 218.02 338.8 219.4 353.57 220.78 346.61 222.16 342.71 223.53 369.77 224.91 358.62 226.29 540 252.47 540 253.84 289.43 255.22 310.66 256.6 309.12 257.98 305.85 259.36 281.12 260.73 304.52 262.11 302.62 263.49 296.21 264.87 286.54 266.24 276.61 267.62 284.92 269 286.15 270.38 314.87 271.76 305.88 273.13 391.69 274.51 304.5 275.89 296.96 277.27 390.49 278.64 302.14 280.02 318.08 281.4 293.26 282.78 299.57 284.16 337.87 285.53 322.22 286.91 312.51 288.29 306.9 289.67 318.23 291.04 299.77 292.42 330.97 293.8 318.12 295.18 325.7 296.56 316.74 297.93 315.59 299.31 346.66 300.69 318.18 302.07 328.36 303.44 335.48 304.82 304.91 306.2 330.62 307.58 540 332.38 540 333.76 262.94 335.13 287.86 336.51 278.47 337.89 300.63 339.27 284.9 340.64 294.96 342.02 282.34 343.4 287.06 344.78 282.55 346.16 261.23 347.53 285.26 348.91 290.86 350.29 301.75 351.67 301.59 353.04 305.61 354.42 328.89 355.8 322.44 357.18 317.95 358.56 315.23 359.93 309.95 361.31 334.66 362.69 310.99 364.07 399.25 365.44 297.65 366.82 329.7 368.2 318.7 369.58 300.48 370.96 324.86 372.33 323.34 373.71 329.01 375.09 327.06 376.47 330.35 377.84 315.58 379.22 324.01 380.6 330.51 381.98 318.9 383.36 333.2 384.73 342.76 386.11 341.72 387.49 540 413.67 540 415.04 319.18 416.42 301.56 417.8 327.2 419.18 303.69 420.56 327.6 421.93 342.28 423.31 310.78 424.69 353.92 426.07 388.11 427.44 485.28 428.82 441.98 430.2 361 431.58 318.66 432.96 320.47 434.33 319.33 435.71 324.07 437.09 380.78 438.47 425.42 439.84 385.4 441.22 349.05 442.6 321.55 443.98 319.05 445.36 299.57 446.73 308.77 448.11 309.18 449.49 540 450.87 540 452.24 293.29 453.62 322.84 455 307.14 456.38 322.71 457.76 303.92 459.13 324.55 460.51 305.79 461.89 322.2 463.27 320.45 464.64 300.1 466.02 325.32 467.4 289.78 468.78 540 493.58 540 494.96 356.94 496.33 369.58 497.71 371.15 499.09 348.71 500.47 345.68 501.84 356.64 503.22 353.5 504.6 344.77 505.98 340.49 507.36 330.98 508.73 334.6 510.11 318.32 511.49 310.9 512.87 330.42 514.24 306.91 515.62 319.39 517 320.52 518.38 306.71 519.76 304.08 521.13 292.93 522.51 289.17 523.89 331.76 525.27 281.48 526.64 286.75 528.02 287.62 529.4 314.99 530.78 306.85 532.16 316.81 533.53 523.45 534.91 540 539.04 540 540.42 290.45 541.8 287.87 543.18 322.49 544.56 300.99 545.93 307.81 547.31 317.37 548.69 540 574.87 540 576.24 333.71 577.62 329.24 579 337.5 580.38 301.52 581.76 324.76 583.13 323.49 584.51 314.95 585.89 342.54 587.27 318.3 588.64 309.84 590.02 323.95 591.4 324.32 592.78 321.4 594.16 308.95 595.53 314.12 596.91 310.49 598.29 296.67 599.67 307.43 601.04 318.02 602.42 309.28 603.8 315.74 605.18 288.17 606.56 308.76 607.93 307.66 609.31 286.17 610.69 304.84 612.07 278.91 613.44 295 614.82 272.69 616.2 275.44 617.58 267.39 618.96 540 625.84 540 627.22 465.51 628.6 457.49 629.98 540 654.78 540 656.16 283.49 657.53 302.96 658.91 319.55 660.29 343.51 661.67 289.48 663.04 315 664.42 318.37 665.8 333.62 667.18 315.26 668.56 315.44 669.93 296.02 671.31 324.48 672.69 345.5 674.07 323.81 675.44 330.67 676.82 317.58 678.2 323.3 679.58 300.49 680.96 300.6 682.33 290.56 683.71 305.76 685.09 329.76 686.47 306.91 687.84 307.92 689.22 307.45 690.6 295.83 691.98 304.49 693.36 329.61 694.73 294.14 696.11 285.47 697.49 289.42 698.87 300.81 700.24 292.01 701.62 412.39" stroke="#00bfbf" stroke-dasharray="8.3333 8.3333"/>
<path d="M145 360.5 146.38 540 169.8 540 171.18 519.62 172.56 447.4 173.93 218.15 175.31 219.14 176.69 251.05 178.07 223.76 179.44 197.15 180.82 210.91 182.2 216.93 183.58 148.62 184.96 162.39 186.33 540 191.84 540 193.22 230.59 194.6 230.65 195.98 228.17 197.36 236.66 198.73 240.24 200.11 231.16 201.49 214.86 202.87 233.32 204.24 199.82 205.62 233.99 207 210.1 208.38 231.1 209.76 252 211.13 242.31 212.51 252.43 213.89 262.7 215.27 265.18 216.64 270.39 218.02 314.09 219.4 275.58 220.78 301.78 222.16 297.97 223.53 308.25 224.91 310.96 226.29 540 252.47 540 253.84 219.17 255.22 210.67 256.6 200.44 257.98 210.28 259.36 196.21 260.73 189.09 262.11 211.16 263.49 216.59 264.87 185.74 266.24 212.89 267.62 169.93 269 198.36 270.38 195.85 271.76 182.17 273.13 325.49 274.51 198.54 275.89 224.13 277.27 327.89 278.64 211.43 280.02 197.26 281.4 208.29 282.78 198.87 284.16 232.31 285.53 239.78 286.91 203.55 288.29 225.64 289.67 248.64 291.04 219.84 292.42 239.91 293.8 239.06 295.18 233.38 296.56 215.1 297.93 233.91 299.31 238.05 300.69 234.65 302.07 232.09 303.44 240.19 304.82 258.85 306.2 243.15 307.58 540 332.38 540 333.76 195.49 335.13 174.23 336.51 184.52 337.89 212.4 339.27 182.14 340.64 203.33 342.02 192.9 343.4 180.85 344.78 177.65 346.16 184.44 347.53 217.07 348.91 188.58 350.29 210.18 351.67 175 353.04 189.48 354.42 235.93 355.8 195.44 357.18 207.27 358.56 196.51 359.93 229.85 361.31 229.46 362.69 229.73 364.07 322.55 365.44 228.54 366.82 247.33 368.2 224.51 369.58 210.98 370.96 241.34 372.33 234.34 373.71 249.44 375.09 247.69 376.47 230.24 377.84 235.27 379.22 235.97 380.6 249.06 381.98 232.22 383.36 248.83 384.73 262.66 386.11 265.03 387.49 540 413.67 540 415.04 216.42 416.42 214.1 417.8 227.63 419.18 201.09 420.56 243.16 421.93 222.11 423.31 225.51 424.69 254.51 426.07 357.18 427.44 452.86 428.82 411.08 430.2 279.53 431.58 196.67 432.96 204.84 434.33 243.28 435.71 231.95 437.09 318.78 438.47 390.99 439.84 335.95 441.22 244.26 442.6 233.99 443.98 245.47 445.36 214.05 446.73 221.89 448.11 227.57 449.49 540 450.87 540 452.24 195.81 453.62 220.47 455 211.97 456.38 224.73 457.76 207.64 459.13 229.52 460.51 213.78 461.89 230.77 463.27 228.51 464.64 233.61 466.02 241.47 467.4 220.26 468.78 540 493.58 540 494.96 300.22 496.33 265.94 497.71 257.59 499.09 276.23 500.47 238.9 501.84 278.12 503.22 247.46 504.6 245.41 505.98 217.25 507.36 217.3 508.73 213.16 510.11 235.29 511.49 222.54 512.87 218 514.24 210.02 515.62 208.19 517 174.37 518.38 204.28 519.76 196.07 521.13 186.34 522.51 166.61 523.89 219.51 525.27 188.77 526.64 189.23 528.02 237.06 529.4 193.68 530.78 205.88 532.16 199.33 533.53 518.08 534.91 540 539.04 540 540.42 193.65 541.8 197.91 543.18 191.19 544.56 184.69 545.93 205.48 547.31 221.18 548.69 540 574.87 540 576.24 204.09 577.62 206.79 579 205.5 580.38 203.49 581.76 221.7 583.13 205.85 584.51 216.71 585.89 236.86 587.27 196.23 588.64 206.56 590.02 201.86 591.4 232.08 592.78 217.4 594.16 207.34 595.53 213.53 596.91 220.35 598.29 189.01 599.67 197.84 601.04 221.05 602.42 228.46 603.8 195.05 605.18 188.55 606.56 196.59 607.93 183.27 609.31 170.19 610.69 167.15 612.07 181.44 613.44 158.78 614.82 189.03 616.2 163.05 617.58 191.57 618.96 540 625.84 540 627.22 435.11 628.6 417.08 629.98 540 654.78 540 656.16 207.19 657.53 226.98 658.91 244.17 660.29 239.52 661.67 210.3 663.04 232.51 664.42 217.71 665.8 220.88 667.18 247.87 668.56 225.44 669.93 201.88 671.31 229.77 672.69 218.41 674.07 234.36 675.44 209.95 676.82 222.76 678.2 234.02 679.58 225.86 680.96 221.79 682.33 222.26 683.71 205.02 685.09 230.21 686.47 203.49 687.84 213.44 689.22 200.36 690.6 178.73 691.98 200.74 693.36 198.79 694.73 181.35 696.11 193.74 697.49 174.38 698.87 186.62 700.24 171.77 701.62 335.05" stroke="#bf00bf" stroke-dasharray="8.3333 8.3333"/>
<path d="M145 359.58 146.38 540 169.8 540 171.18 524.69 172.56 447.11 173.93 257.4 175.31 245.88 176.69 234.99 178.07 240.29 179.44 205.7 180.82 229.53 182.2 215.75 183.58 194.87 184.96 204.99 186.33 540 191.84 540 193.22 240.26 194.6 234.9 195.98 220.7 197.36 251.04 198.73 261.78 200.11 265.2 201.49 250.92 202.87 228.17 204.24 228.23 205.62 242.07 207 252.84 208.38 243.18 209.76 258.48 211.13 261.51 212.51 262.63 213.89 275.12 215.27 287.57 216.64 277.24 218.02 277.56 219.4 294.42 220.78 334.37 222.16 317.45 223.53 330.01 224.91 316.75 226.29 540 252.47 540 253.84 212.04 255.22 247.96 256.6 217.85 257.98 257.94 259.36 202.07 260.73 220.59 262.11 206.27 263.49 234.1 264.87 202.33 266.24 207.02 267.62 206.11 269 223.98 270.38 195.14 271.76 231.8 273.13 340.86 274.51 235.82 275.89 204.89 277.27 347.67 278.64 241.21 280.02 244.9 281.4 231.78 282.78 237.83 284.16 255.97 285.53 256.87 286.91 226.89 288.29 244.71 289.67 241.31 291.04 243.96 292.42 245.94 293.8 268.91 295.18 257.83 296.56 236.2 297.93 223.74 299.31 253.96 300.69 243.44 302.07 249.53 303.44 235.35 304.82 237.04 306.2 255.14 307.58 540 332.38 540 333.76 226.01 335.13 186.5 336.51 194.16 337.89 232.06 339.27 218.21 340.64 222.62 342.02 215.21 343.4 199.32 344.78 187.6 346.16 202.6 347.53 212.28 348.91 190.69 350.29 225.34 351.67 237.26 353.04 206.96 354.42 241.54 355.8 204.72 357.18 223.98 358.56 235.23 359.93 238.79 361.31 257.47 362.69 244.73 364.07 325.23 365.44 262.14 366.82 274.55 368.2 258.16 369.58 253.32 370.96 241.8 372.33 256.12 373.71 259.41 375.09 272.41 376.47 250.24 377.84 269.23 379.22 258.15 380.6 257 381.98 242.07 383.36 253.29 384.73 271.04 386.11 281.64 387.49 540 413.67 540 415.04 235.93 416.42 238.19 417.8 250.19 419.18 242.71 420.56 255.57 421.93 259.97 423.31 251.91 424.69 275.72 426.07 374.33 427.44 445.41 428.82 417.93 430.2 300.17 431.58 238.61 432.96 238.58 434.33 260.94 435.71 257.8 437.09 305.98 438.47 392.08 439.84 359.36 441.22 269.75 442.6 245.2 443.98 242.68 445.36 248.89 446.73 241.24 448.11 233.53 449.49 540 450.87 540 452.24 226.14 453.62 241.02 455 235.13 456.38 246.76 457.76 215.39 459.13 224.21 460.51 253.33 461.89 223.33 463.27 249.15 464.64 217.57 466.02 260.78 467.4 230.85 468.78 540 493.58 540 494.96 305.81 496.33 312.71 497.71 298.18 499.09 285.64 500.47 289.97 501.84 276.14 503.22 275.34 504.6 274.91 505.98 274.31 507.36 241.07 508.73 246.58 510.11 246.89 511.49 242.03 512.87 262.56 514.24 226.81 515.62 229.28 517 221.11 518.38 213.03 519.76 217.44 521.13 215.04 522.51 204.06 523.89 215.38 525.27 233.54 526.64 217.63 528.02 237.95 529.4 216.69 530.78 223.27 532.16 241.12 533.53 520.46 534.91 540 539.04 540 540.42 217.82 541.8 245.35 543.18 229.25 544.56 234.93 545.93 249.76 547.31 219.96 548.69 540 574.87 540 576.24 231.4 577.62 253.79 579 236.88 580.38 214.67 581.76 258.44 583.13 251.33 584.51 220.91 585.89 239.24 587.27 222 588.64 223.74 590.02 253.77 591.4 266.59 592.78 243.56 594.16 222.37 595.53 246.21 596.91 253.06 598.29 238.55 599.67 226.89 601.04 226.16 602.42 253.75 603.8 201.36 605.18 232.13 606.56 222.37 607.93 223.07 609.31 213.15 610.69 194.17 612.07 177.95 613.44 186.89 614.82 182.33 616.2 173.17 617.58 184.02 618.96 540 625.84 540 627.22 448.32 628.6 431.54 629.98 540 654.78 540 656.16 205.97 657.53 238.99 658.91 259.47 660.29 239.27 661.67 237.69 663.04 237.47 664.42 251.19 665.8 233.57 667.18 257.47 668.56 254.51 669.93 223.88 671.31 220.44 672.69 249.7 674.07 229.86 675.44 242.72 676.82 248.26 678.2 269.97 679.58 198.59 680.96 225.59 682.33 260.66 683.71 219.95 685.09 245.91 686.47 242.38 687.84 234.89 689.22 219.21 690.6 211.99 691.98 226.72 693.36 228.31 694.73 222.21 696.11 197.11 697.49 231.71 698.87 229.64 700.24 217.5 701.62 358.48" stroke="#bfbf00" stroke-dasharray="8.3333 8.3333"/>
<path d="M145 380.97 146.38 540 169.8 540 171.18 523.9 172.56 446.08 173.93 265.47 175.31 257.82 176.69 258.05 178.07 243.64 179.44 236.86 180.82 261.49 182.2 239.2 183.58 241.08 184.96 207.75 186.33 540 191.84 540 193.22 266.54 194.6 226.09 195.98 280.26 197.36 276.38 198.73 260.52 200.11 227.1 201.49 267.24 202.87 249.6 204.24 249.93 205.62 285.78 207 262.4 208.38 264.48 209.76 247.58 211.13 260.91 212.51 277.62 213.89 274.63 215.27 301.13 216.64 311.02 218.02 307.11 219.4 307.67 220.78 326.34 222.16 318.24 223.53 331.87 224.91 316.44 226.29 540 252.47 540 253.84 228.5 255.22 243.5 256.6 269.59 257.98 281.36 259.36 227.79 260.73 265.1 262.11 237.81 263.49 256.14 264.87 227.37 266.24 243.21 267.62 261.74 269 224.13 270.38 237.29 271.76 235.87 273.13 325.72 274.51 233.31 275.89 233.17 277.27 355.78 278.64 253.68 280.02 253.28 281.4 258.15 282.78 247.5 284.16 266.48 285.53 264.11 286.91 259.25 288.29 256.21 289.67 281.3 291.04 265.42 292.42 263.06 293.8 274.99 295.18 315.24 296.56 260.8 297.93 255.87 299.31 286.1 300.69 281.22 302.07 267.15 303.44 288.76 304.82 257.45 306.2 269.94 307.58 540 332.38 540 333.76 235.8 335.13 226.75 336.51 211.14 337.89 246.13 339.27 237.51 340.64 239.67 342.02 240.51 343.4 233.31 344.78 235.09 346.16 235.24 347.53 255.46 348.91 240.53 350.29 250.6 351.67 229.94 353.04 248.84 354.42 271.46 355.8 257.56 357.18 245.94 358.56 247.01 359.93 257.56 361.31 257.55 362.69 275.81 364.07 342.39 365.44 273.29 366.82 273.19 368.2 262.75 369.58 288.14 370.96 279.12 372.33 276.21 373.71 289.93 375.09 296.04 376.47 263.34 377.84 274.17 379.22 267.74 380.6 292.26 381.98 306.95 383.36 275.09 384.73 292.77 386.11 304.77 387.49 540 413.67 540 415.04 258.39 416.42 264.6 417.8 261.47 419.18 266.07 420.56 285.89 421.93 249.21 423.31 258.36 424.69 300.37 426.07 385.65 427.44 473.9 428.82 415.26 430.2 322.93 431.58 256.38 432.96 289.14 434.33 252.24 435.71 281.58 437.09 334.09 438.47 407.18 439.84 351.25 441.22 294.52 442.6 258.79 443.98 262.93 445.36 284.46 446.73 265.15 448.11 264.22 449.49 540 450.87 540 452.24 248.11 453.62 260.18 455 267.9 456.38 279.8 457.76 260.79 459.13 262.01 460.51 273.49 461.89 270.26 463.27 280.48 464.64 252.65 466.02 269.44 467.4 245.16 468.78 540 493.58 540 494.96 314.65 496.33 309.34 497.71 325.24 499.09 309.44 500.47 280.28 501.84 300.66 503.22 286.27 504.6 314.08 505.98 280.31 507.36 277.38 508.73 255.23 510.11 257.8 511.49 248.54 512.87 272.3 514.24 274.06 515.62 261.04 517 236.15 518.38 252.12 519.76 243.2 521.13 220.41 522.51 241.83 523.89 246.97 525.27 268.31 526.64 255.72 528.02 247.18 529.4 246.98 530.78 276.85 532.16 264.35 533.53 514.33 534.91 540 539.04 540 540.42 237.41 541.8 261.79 543.18 239.74 544.56 247.53 545.93 244.84 547.31 246.54 548.69 540 574.87 540 576.24 267.54 577.62 273.23 579 286.65 580.38 243.46 581.76 280.56 583.13 271.07 584.51 270.41 585.89 275.02 587.27 244.54 588.64 262.84 590.02 259.15 591.4 276.78 592.78 248.79 594.16 244.56 595.53 244.82 596.91 268.45 598.29 254.96 599.67 260.26 601.04 244.9 602.42 262.38 603.8 253.98 605.18 235.28 606.56 255.44 607.93 245.75 609.31 218.17 610.69 232.64 612.07 214.63 613.44 220.73 614.82 205.45 616.2 220.04 617.58 214.01 618.96 540 625.84 540 627.22 456.48 628.6 450.3 629.98 540 654.78 540 656.16 249.75 657.53 243.1 658.91 268.53 660.29 275.36 661.67 254.66 663.04 249.45 664.42 277.34 665.8 279.46 667.18 262.91 668.56 274.45 669.93 267.94 671.31 253.87 672.69 283.27 674.07 270.11 675.44 254.96 676.82 268.46 678.2 257.25 679.58 269.83 680.96 279.91 682.33 264.91 683.71 254.68 685.09 283.64 686.47 250.64 687.84 258.02 689.22 258.33 690.6 236.17 691.98 251.5 693.36 264.88 694.73 245.34 696.11 245.19 697.49 215.93 698.87 244.69 700.24 244.8 701.62 368.6" stroke="#000000" stroke-dasharray="8.3333 8.3333"/>
<path d="M145 332.16 146.38 540 169.8 540 171.18 516.39 172.56 432.45 173.93 222.28 175.31 189.92 176.69 196.11 178.07 187.22 179.44 185.54 180.82 178.11 182.2 165.67 183.58 145.56 184.96 158.3 186.33 540 191.84 540 193.22 216.58 194.6 183.48 195.98 198.82 197.36 219.14 198.73 186.7 200.11 218.88 201.49 196.55 202.87 198.65 204.24 203 205.62 208.63 207 209.74 208.38 235.42 209.76 214.83 211.13 208.01 212.51 259.33 213.89 238.73 215.27 260.9 216.64 282.32 218.02 253.27 219.4 269.78 220.78 265.92 222.16 300.86 223.53 294.35 224.91 275.91 226.29 540 252.47 540 253.84 179.17 255.22 177.99 256.6 169.64 257.98 195.54 259.36 162.99 260.73 172.75 262.11 149.77 263.49 180.42 264.87 135.78 266.24 130.77 267.62 158.11 269 145.82 270.38 152.06 271.76 156.33 273.13 267.95 274.51 148.76 275.89 175.9 277.27 300.48 278.64 192.14 280.02 205.97 281.4 164.33 282.78 186.35 284.16 183.19 285.53 188.92 286.91 180.03 288.29 199.87 289.67 212.92 291.04 213.73 292.42 202.18 293.8 229.64 295.18 238.35 296.56 215.41 297.93 206.25 299.31 216.41 300.69 211.05 302.07 198.09 303.44 179.24 304.82 237.32 306.2 193.75 307.58 540 332.38 540 333.76 192.41 335.13 169.19 336.51 158.75 337.89 194.15 339.27 160.95 340.64 189.82 342.02 181.05 343.4 129.36 344.78 142.18 346.16 152.63 347.53 170.03 348.91 188.32 350.29 180.59 351.67 189.46 353.04 154 354.42 212.6 355.8 176.17 357.18 169.76 358.56 181.46 359.93 204.7 361.31 205.37 362.69 191.01 364.07 307.57 365.44 127.2 366.82 191.8 368.2 222.87 369.58 206.08 370.96 198.03 372.33 217.87 373.71 226.05 375.09 231.49 376.47 192.87 377.84 243.32 379.22 221.12 380.6 216.36 381.98 212.74 383.36 224.11 384.73 221.65 386.11 234.08 387.49 540 413.67 540 415.04 178.11 416.42 184.52 417.8 213.94 419.18 203.33 420.56 230.99 421.93 202.16 423.31 194 424.69 266.33 426.07 340.12 427.44 448.35 428.82 391.42 430.2 252.74 431.58 184.41 432.96 183.99 434.33 208.65 435.71 201.23 437.09 301.13 438.47 356.38 439.84 321.47 441.22 233.07 442.6 217.7 443.98 223.77 445.36 183.3 446.73 197.66 448.11 191.33 449.49 540 450.87 540 452.24 184.69 453.62 206.39 455 182.47 456.38 174.06 457.76 205.32 459.13 221.56 460.51 205.59 461.89 211.94 463.27 191.23 464.64 167.31 466.02 184.97 467.4 182.08 468.78 540 493.58 540 494.96 262.7 496.33 246.7 497.71 276.01 499.09 259.21 500.47 226.21 501.84 260.85 503.22 217.24 504.6 226.72 505.98 215.37 507.36 185.83 508.73 210.61 510.11 198.35 511.49 174.47 512.87 198.24 514.24 214.97 515.62 172.68 517 182.12 518.38 181.86 519.76 160.32 521.13 163.38 522.51 152.83 523.89 207.69 525.27 129.6 526.64 179.16 528.02 156.89 529.4 179.5 530.78 217.36 532.16 182.06 533.53 514.35 534.91 540 539.04 540 540.42 152.26 541.8 197.58 543.18 178.87 544.56 167.27 545.93 210.42 547.31 193.85 548.69 540 574.87 540 576.24 174.01 577.62 208.11 579 186.71 580.38 164.11 581.76 184.94 583.13 189.38 584.51 180.61 585.89 205.06 587.27 171.21 588.64 204.07 590.02 188.6 591.4 182.66 592.78 180.53 594.16 157.5 595.53 148.52 596.91 170.57 598.29 184.8 599.67 176.58 601.04 191.09 602.42 167.6 603.8 176.35 605.18 161.38 606.56 182.9 607.93 158.89 609.31 159.23 610.69 140.68 612.07 129.5 613.44 127.54 614.82 153.8 616.2 143.74 617.58 120.89 618.96 540 625.84 540 627.22 427.48 628.6 419.8 629.98 540 654.78 540 656.16 174.7 657.53 165.94 658.91 220.24 660.29 176.45 661.67 177.83 663.04 167.41 664.42 213.71 665.8 199.3 667.18 205.77 668.56 197.5 669.93 200.94 671.31 204.05 672.69 208.89 674.07 189.62 675.44 219.11 676.82 206.67 678.2 212.35 679.58 171.43 680.96 181.85 682.33 203.78 683.71 194.26 685.09 195.78 686.47 194.07 687.84 159.43 689.22 156.22 690.6 148.33 691.98 166.29 693.36 190.09 694.73 177.92 696.11 142.98 697.49 129.37 698.87 162.51 700.24 156.92 701.62 297.49" stroke="#0000ff" stroke-dasharray="8.3333 8.3333"/>
<path d="M145 352.8 146.38 540 169.8 540 171.18 520.27 172.56 431.95 173.93 192.46 175.31 196.09 176.69 217.16 178.07 191.97 179.44 195.15 180.82 216.45 182.2 163.53 183.58 149.12 184.96 130.11 186.33 540 191.84 540 193.22 221.7 194.6 208.98 195.98 211.15 197.36 211.7 198.73 209.7 200.11 203.39 201.49 210.26 202.87 197.8 204.24 206.44 205.62 201.45 207 238.19 208.38 217.7 209.76 226.32 211.13 229.27 212.51 238.89 213.89 238.41 215.27 252.17 216.64 256.61 218.02 278.41 219.4 252.43 220.78 299.61 222.16 305.02 223.53 298.68 224.91 291.1 226.29 540 252.47 540 253.84 194.45 255.22 185.92 256.6 184.86 257.98 190.85 259.36 173.87 260.73 170.5 262.11 186.33 263.49 179.57 264.87 170.31 266.24 163.35 267.62 169.79 269 162.77 270.38 171.72 271.76 146.2 273.13 305.2 274.51 158.67 275.89 189.6 277.27 337.11 278.64 202.63 280.02 182.89 281.4 182.37 282.78 186.61 284.16 215.58 285.53 193.11 286.91 203.18 288.29 182.73 289.67 201.27 291.04 203.93 292.42 212.63 293.8 221.36 295.18 213.35 296.56 198.94 297.93 215.39 299.31 211.53 300.69 203.3 302.07 211.33 303.44 210.99 304.82 208.42 306.2 217.18 307.58 540 332.38 540 333.76 181.04 335.13 171.93 336.51 186.46 337.89 182.61 339.27 182.4 340.64 205.36 342.02 170.26 343.4 141.53 344.78 180.26 346.16 163.2 347.53 159.21 348.91 199.87 350.29 189.99 351.67 170.43 353.04 151.54 354.42 217.14 355.8 202.29 357.18 191.78 358.56 189.61 359.93 201.54 361.31 199.86 362.69 222.64 364.07 291.05 365.44 231.79 366.82 204.62 368.2 196.84 369.58 195.24 370.96 202.43 372.33 203.76 373.71 227.22 375.09 230.81 376.47 181.58 377.84 201.1 379.22 207.11 380.6 207.7 381.98 236.99 383.36 194.94 384.73 229.24 386.11 231.88 387.49 540 413.67 540 415.04 193.41 416.42 198.09 417.8 214.07 419.18 202.79 420.56 215.37 421.93 206.25 423.31 195.24 424.69 245.31 426.07 336.48 427.44 453.95 428.82 403.81 430.2 256.95 431.58 194.58 432.96 230.77 434.33 195.86 435.71 209.2 437.09 317.04 438.47 377.39 439.84 315.27 441.22 255.82 442.6 218.52 443.98 211.84 445.36 185.13 446.73 237.78 448.11 202.48 449.49 540 450.87 540 452.24 186.04 453.62 210.9 455 197.5 456.38 199.31 457.76 180.76 459.13 193.88 460.51 172.8 461.89 218.18 463.27 230.4 464.64 194.79 466.02 203.25 467.4 169.77 468.78 540 493.58 540 494.96 266.74 496.33 265.09 497.71 289.43 499.09 243.3 500.47 243.94 501.84 246.67 503.22 215.98 504.6 237.15 505.98 194.9 507.36 190.56 508.73 216.33 510.11 186.44 511.49 185.39 512.87 199.48 514.24 179.42 515.62 196.63 517 171.31 518.38 170.46 519.76 198.86 521.13 165.6 522.51 148.74 523.89 202.14 525.27 105.6 526.64 191.6 528.02 181.47 529.4 189.67 530.78 217.84 532.16 194.37 533.53 511.35 534.91 540 539.04 540 540.42 174.75 541.8 173.93 543.18 193.46 544.56 162.99 545.93 159.79 547.31 193.05 548.69 540 574.87 540 576.24 178.1 577.62 184.87 579 182.55 580.38 191.92 581.76 187.57 583.13 157.34 584.51 205.58 585.89 209.1 587.27 180.6 588.64 168.62 590.02 187.31 591.4 198.62 592.78 149.72 594.16 194.06 595.53 207.39 596.91 203.27 598.29 172.78 599.67 163.05 601.04 186 602.42 202.3 603.8 179.39 605.18 165 606.56 161.49 607.93 180.96 609.31 158.61 610.69 158.92 612.07 135.42 613.44 139.34 614.82 152.72 616.2 143.62 617.58 142.33 618.96 540 625.84 540 627.22 431.96 628.6 426.25 629.98 540 654.78 540 656.16 191.34 657.53 177.34 658.91 212.93 660.29 226.6 661.67 180.28 663.04 200.78 664.42 208.99 665.8 203.4 667.18 192.92 668.56 201.76 669.93 195.11 671.31 197.38 672.69 203.05 674.07 207.03 675.44 199.4 676.82 230.24 678.2 207.76 679.58 177.68 680.96 185.42 682.33 200.39 683.71 185.73 685.09 187.31 686.47 145.62 687.84 177.81 689.22 172.58 690.6 168.02 691.98 146.82 693.36 180.44 694.73 170.28 696.11 149.21 697.49 170.06 698.87 173.81 700.24 168.13 701.62 323.83" stroke="#008000" stroke-dasharray="8.3333 8.3333"/>
</g>
<g fill="none" stroke="#000">
<path d="M100.5 540.5V60.5H720.5V540.5Z" stroke-width="1.3889" stroke-linejoin="miter"/>
<path d="M100.5 540.5V534.5M100.5 60.5V66.5M169.5 540.5V534.5M169.5 60.5V66.5M238.5 540.5V534.5M238.5 60.5V66.5M307.5 540.5V534.5M307.5 60.5V66.5M376.5 540.5V534.5M376.5 60.5V66.5M444.5 540.5V534.5M444.5 60.5V66.5M513.5 540.5V534.5M513.5 60.5V66.5M582.5 540.5V534.5M582.5 60.5V66.5M651.5 540.5V534.5M651.5 60.5V66.5M720.5 540.5V534.5M720.5 60.5V66.5M100.5 540.5H106.5M720.5 540.5H714.5M100.5 444.5H106.5M720.5 444.5H714.5M100.5 348.5H106.5M720.5 348.5H714.5M100.5 252.5H106.5M720.5 252.5H714.5M100.5 156.5H106.5M720.5 156.5H714.5M100.5 60.5H106.5M720.5 60.5H714.5" stroke-width="0.6944"/>
</g>
<g style="font-family:'DejaVu Sans','Liberation Sans',sans-serif;font-size:16.6667px" fill="#000" text-anchor="middle">
<text x="100" y="558.22" style="letter-spacing:-0.08px">5000</text>
<text x="168.89" y="558.22" style="letter-spacing:-0.08px">10000</text>
<text x="237.78" y="558.22" style="letter-spacing:-0.08px">15000</text>
<text x="306.67" y="558.22" style="letter-spacing:-0.08px">20000</text>
<text x="375.56" y="558.22" style="letter-spacing:-0.08px">25000</text>
<text x="444.44" y="558.22" style="letter-spacing:-0.08px">30000</text>
<text x="513.33" y="558.22" style="letter-spacing:-0.08px">35000</text>
<text x="582.22" y="558.22" style="letter-spacing:-0.08px">40000</text>
<text x="651.11" y="558.22" style="letter-spacing:-0.08px">45000</text>
<text x="720" y="558.22" style="letter-spacing:-0.08px">50000</text>
</g>
<g style="font-family:'DejaVu Sans','Liberation Sans',sans-serif;font-size:16.6667px" fill="#000" text-anchor="end">
<text x="94.44" y="544.6">0</text>
<text x="94.44" y="448.6">2</text>
<text x="94.44" y="352.6">4</text>
<text x="94.44" y="256.6">6</text>
<text x="94.44" y="160.6">8</text>
<text x="94" y="64.6" style="letter-spacing:-0.5px">10</text>
<text x="720" y="577.38">+2.0857e8</text>
</g>
<g>
<rect x="410.5" y="67.5" width="303" height="88" fill="#fff" fill-opacity="0.5" stroke="#000" stroke-opacity="0.5" stroke-width="1.3889" stroke-linejoin="miter"/>
<path d="M420.5 79.5H439.5" stroke="#0000ff" stroke-width="1.3889" stroke-linecap="square" fill="none"/>
<path d="M420.5 100.5H439.5" stroke="#008000" stroke-width="1.3889" stroke-linecap="square" fill="none"/>
<path d="M420.5 121.5H439.5" stroke="#ff0000" stroke-width="1.3889" stroke-linecap="square" fill="none"/>
<path d="M420.5 141.5H439.5" stroke="#00bfbf" stroke-width="1.3889" stroke-linecap="square" fill="none"/>
<path d="M495.5 79.5H514.5" stroke="#bf00bf" stroke-width="1.3889" stroke-linecap="square" fill="none"/>
<path d="M495.5 100.5H514.5" stroke="#bfbf00" stroke-width="1.3889" stroke-linecap="square" fill="none"/>
<path d="M495.5 121.5H514.5" stroke="#000000" stroke-width="1.3889" stroke-linecap="square" fill="none"/>
<path d="M495.5 141.5H514.5" stroke="#0000ff" stroke-width="1.3889" stroke-linecap="square" fill="none"/>
<path d="M571.5 79.5H590.5" stroke="#008000" stroke-width="1.3889" stroke-dasharray="8.3333 8.3333" fill="none"/>
<path d="M571.5 100.5H590.5" stroke="#ff0000" stroke-width="1.3889" stroke-dasharray="8.3333 8.3333" fill="none"/>
<path d="M571.5 121.5H590.5" stroke="#00bfbf" stroke-width="1.3889" stroke-dasharray="8.3333 8.3333" fill="none"/>
<path d="M571.5 141.5H590.5" stroke="#bf00bf" stroke-width="1.3889" stroke-dasharray="8.3333 8.3333" fill="none"/>
<path d="M655.5 79.5H674.5" stroke="#bfbf00" stroke-width="1.3889" stroke-dasharray="8.3333 8.3333" fill="none"/>
<path d="M655.5 100.5H674.5" stroke="#000000" stroke-width="1.3889" stroke-dasharray="8.3333 8.3333" fill="none"/>
<path d="M655.5 121.5H674.5" stroke="#0000ff" stroke-width="1.3889" stroke-dasharray="8.3333 8.3333" fill="none"/>
<path d="M655.5 141.5H674.5" stroke="#008000" stroke-width="1.3889" stroke-dasharray="8.3333 8.3333" fill="none"/>
</g>
<g style="font-family:'DejaVu Sans','Liberation Sans',sans-serif;font-size:13.8889px" fill="#000">
<text x="454.98" y="83.05">0</text>
<text x="454.98" y="104.2">1</text>
<text x="454.98" y="125.2">2</text>
<text x="454.98" y="146.2">3</text>
<text x="530.88" y="83.05">4</text>
<text x="530.88" y="104.2">5</text>
<text x="530.88" y="125.2">6</text>
<text x="530.88" y="146.2">7</text>
<text x="604.89" y="83.05">8</text>
<text x="604.89" y="104.2">9</text>
<text x="605.49" y="125.2" style="letter-spacing:-0.6px">10</text>
<text x="605.49" y="146.2" style="letter-spacing:-0.6px">11</text>
<text x="689.63" y="83.05" style="letter-spacing:-0.6px">12</text>
<text x="689.63" y="104.2" style="letter-spacing:-0.6px">13</text>
<text x="689.63" y="125.2" style="letter-spacing:-0.6px">14</text>
<text x="689.63" y="146.2" style="letter-spacing:-0.6px">15</text>
</g>
<text x="410.4" y="54.06" text-anchor="middle" style="font-family:'DejaVu Sans','Liberation Sans',sans-serif;font-size:20px;letter-spacing:0.054px">Quadrant 3 module wise count rates with 100.0s bins.</text>
<text x="399.5" y="23.66" text-anchor="middle" style="font-family:'DejaVu Sans','Liberation Sans',sans-serif;font-size:16.6667px;letter-spacing:0.017px">Data file: modeM0/AS1G05_235T01_9000000590_04713cztM0_level2_quad_clean.evt</text>
</svg>
</body></html>
